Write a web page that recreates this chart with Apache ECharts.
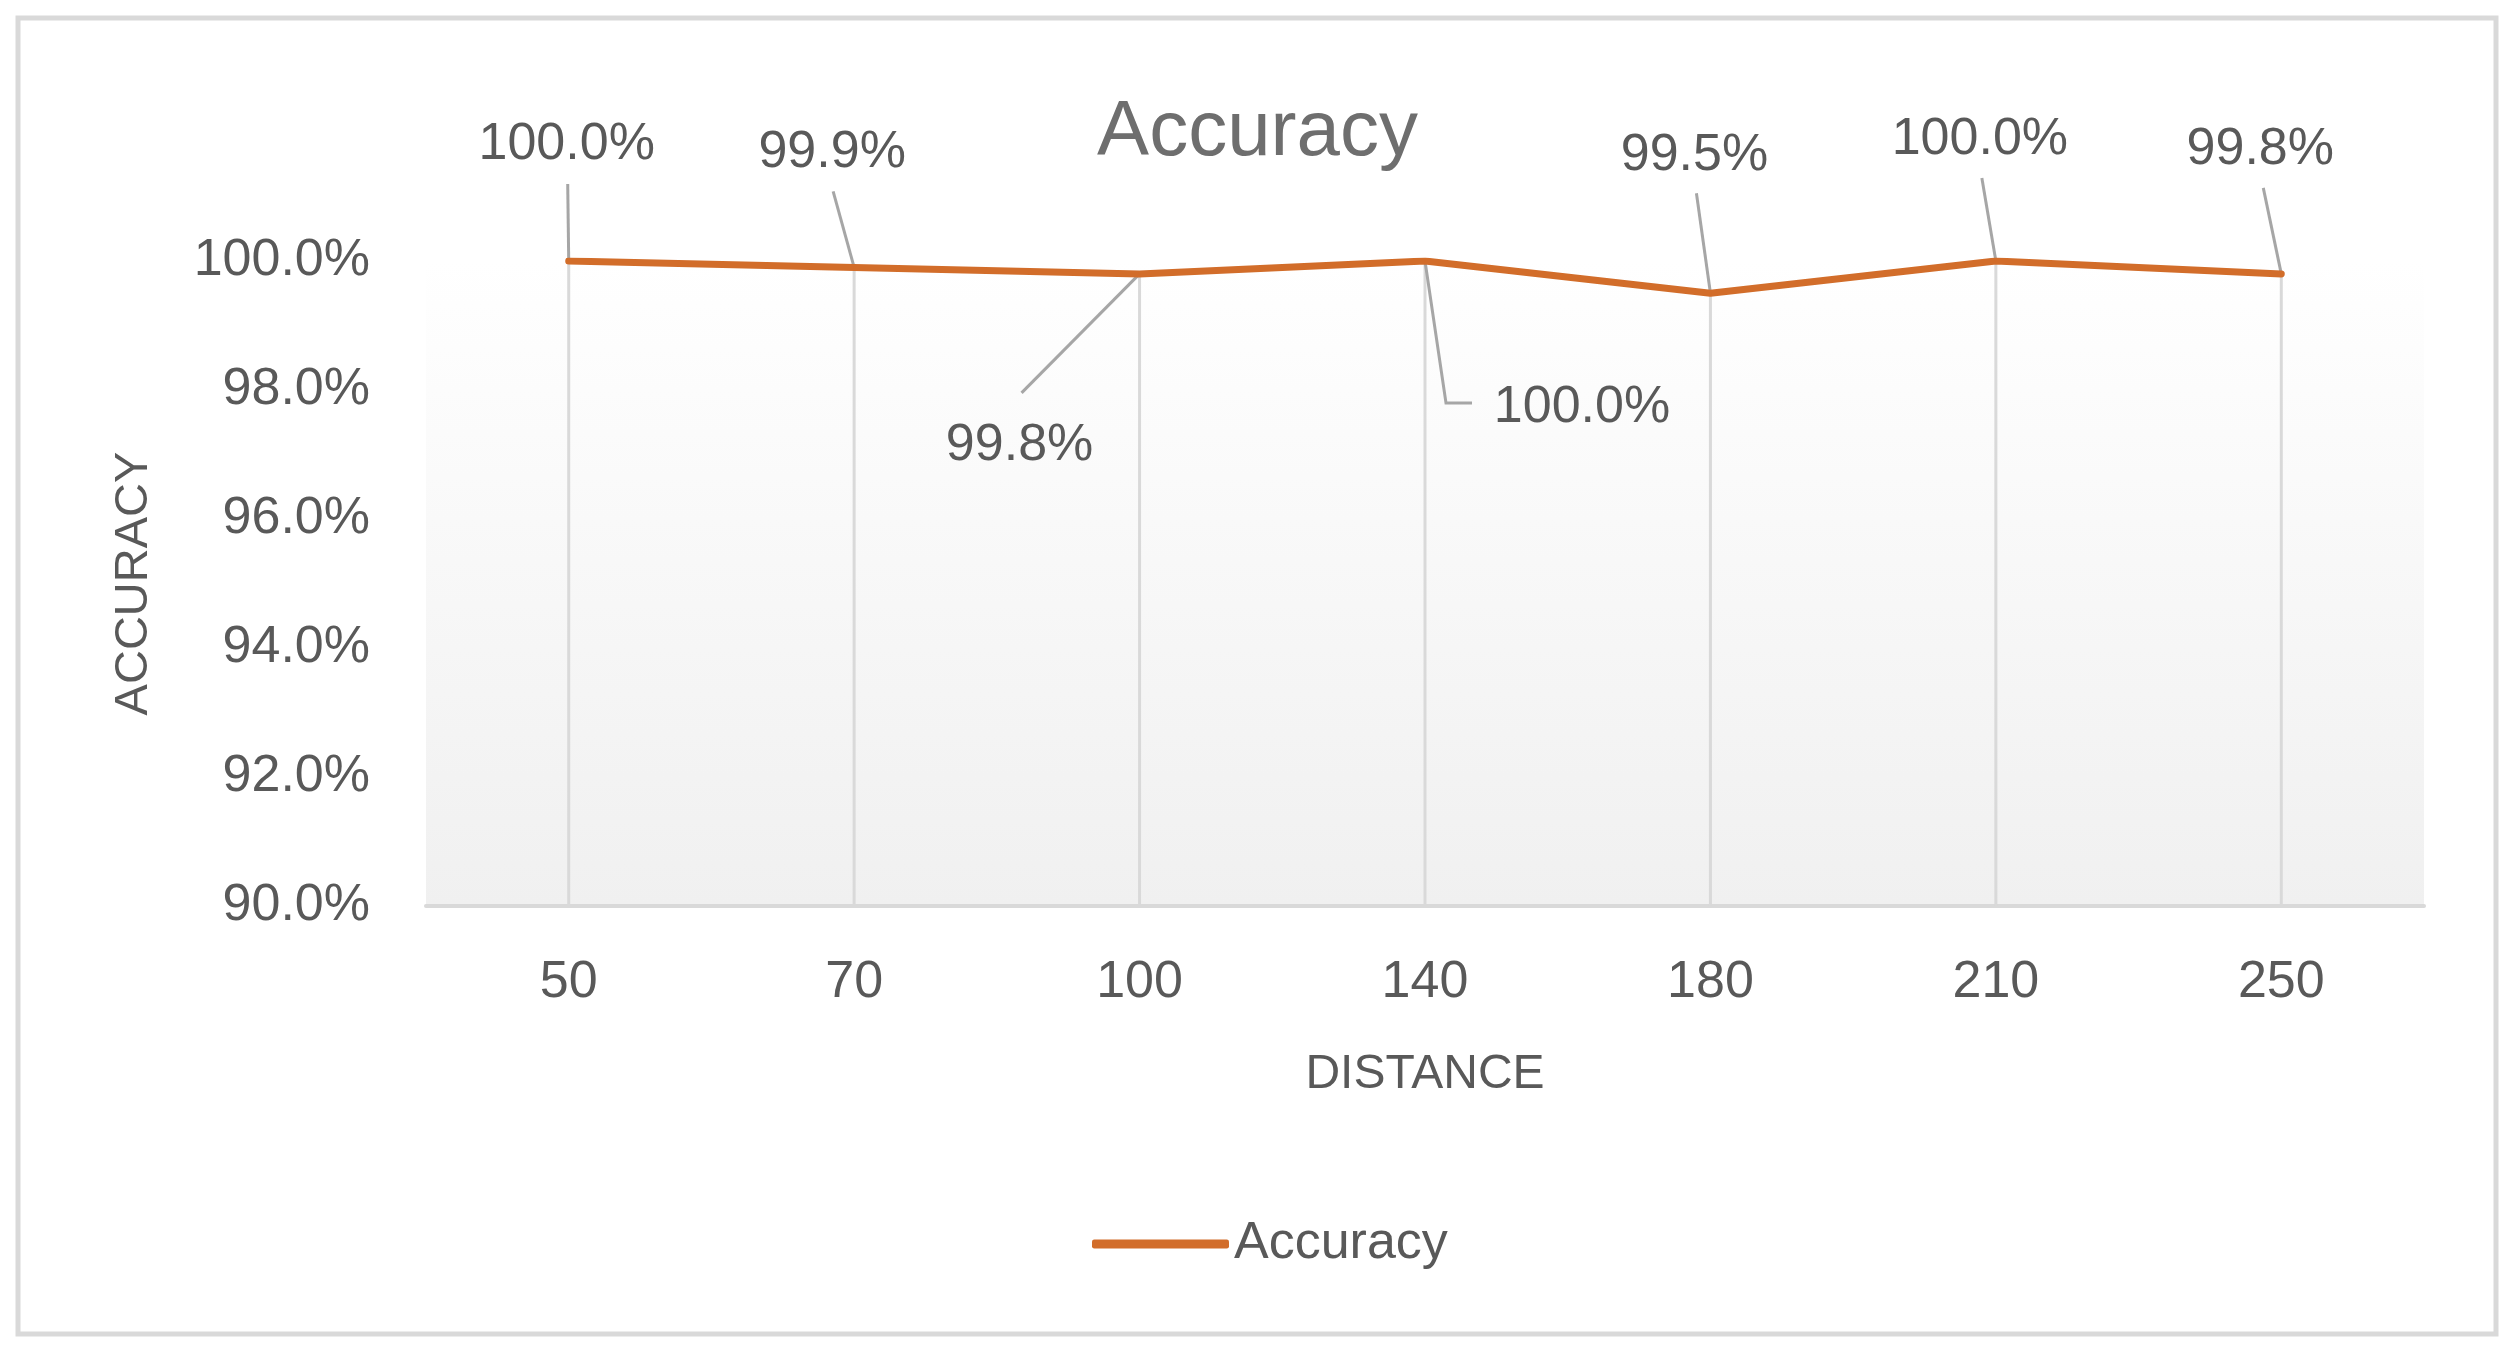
<!DOCTYPE html>
<html>
<head>
<meta charset="utf-8">
<title>Accuracy</title>
<script src="https://cdn.jsdelivr.net/npm/echarts@6/dist/echarts.min.js"></script>
<style>
  html, body { margin: 0; padding: 0; background: #fff; }
  #chart { width: 2515px; height: 1356px; }
</style>
</head>
<body>
<div id="chart"></div>
<script>
// chart data
var distances = ['50', '70', '100', '140', '180', '210', '250'];
var accuracy = [1.000, 0.999, 0.998, 1.000, 0.995, 1.000, 0.998];

// where each data label sits, relative to its point (px)
var labelShift = [[-2, -116], [-22, -115], [-120, 172], [157, 147], [-16, -138], [-16, -121], [-21, -124]];
// leader line bends, relative to the point (px)
var leaderPath = [
    [[-1, -77]],
    [[-21, -76]],
    [[-118, 119]],
    [[21, 142], [47, 142]],
    [[-14, -100]],
    [[-14, -83]],
    [[-18, -86]]
];

var FONT = "'Liberation Sans', Arial, sans-serif";
var TEXT = '#595959';
var ORANGE = '#D26D2A';

function pct(v) {
    return (v * 100).toFixed(1) + '%';
}

var chart = echarts.init(document.getElementById('chart'));

chart.setOption({
    backgroundColor: '#fff',
    animation: false,
    textStyle: { fontFamily: FONT },
    title: {
        text: 'Accuracy',
        left: 'center',
        top: 89,
        textStyle: { fontFamily: FONT, fontSize: 78, fontWeight: 'normal', color: '#6e6e6e' }
    },
    // outer chart frame
    graphic: [{
        type: 'rect',
        shape: { x: 18, y: 18, width: 2478, height: 1316 },
        style: { fill: 'none', stroke: '#d9d9d9', lineWidth: 5 },
        silent: true
    }],
    legend: {
        data: ['Accuracy'],
        left: 1087,
        top: 1213,
        icon: 'roundRect',
        itemWidth: 137,
        itemHeight: 9,
        textStyle: { fontFamily: FONT, fontSize: 52, color: TEXT }
    },
    grid: {
        left: 426,
        right: 91,
        top: 261,
        bottom: 450,
        show: true,
        borderWidth: 0,
        backgroundColor: new echarts.graphic.LinearGradient(0, 0, 0, 1, [
            { offset: 0, color: '#ffffff' },
            { offset: 1, color: '#f0f0f0' }
        ])
    },
    xAxis: {
        type: 'category',
        data: distances,
        name: 'DISTANCE',
        nameLocation: 'middle',
        nameGap: 145,
        nameTextStyle: { fontFamily: FONT, fontSize: 48, color: TEXT },
        axisLine: { lineStyle: { color: '#d9d9d9', width: 4 } },
        axisTick: { show: false },
        axisLabel: { fontFamily: FONT, fontSize: 52, color: TEXT, margin: 51 },
        splitLine: { show: false }
    },
    yAxis: {
        type: 'value',
        min: 0.9,
        max: 1.0,
        interval: 0.02,
        name: 'ACCURACY',
        nameLocation: 'middle',
        nameRotate: 90,
        nameGap: 268,
        nameTextStyle: { fontFamily: FONT, fontSize: 47, color: TEXT },
        axisLine: { show: false },
        axisTick: { show: false },
        splitLine: { show: false },
        axisLabel: {
            fontFamily: FONT, fontSize: 52, color: TEXT, margin: 56,
            formatter: pct
        }
    },
    series: [
        {
            // drop lines from each point to the axis
            name: 'drop',
            type: 'bar',
            data: accuracy,
            barWidth: 3,
            silent: true,
            itemStyle: { color: '#d9d9d9' },
            z: 1
        },
        {
            // leader lines from the points to their labels
            name: 'leader',
            type: 'custom',
            silent: true,
            z: 2,
            data: accuracy.map(function (v, i) { return [i, v]; }),
            encode: { x: 0, y: 1 },
            renderItem: function (params, api) {
                var pt = api.coord([api.value(0), api.value(1)]);
                var pts = [pt].concat(leaderPath[params.dataIndex].map(function (d) {
                    return [pt[0] + d[0], pt[1] + d[1]];
                }));
                return {
                    type: 'polyline',
                    shape: { points: pts },
                    style: { stroke: '#a6a6a6', lineWidth: 3, fill: null }
                };
            }
        },
        {
            name: 'Accuracy',
            type: 'line',
            data: accuracy,
            symbol: 'circle',
            symbolSize: 2,
            itemStyle: { color: ORANGE },
            lineStyle: { color: ORANGE, width: 7, cap: 'round', join: 'round' },
            z: 3,
            label: {
                show: true,
                position: 'inside',
                fontFamily: FONT,
                fontSize: 52,
                color: TEXT,
                formatter: function (p) { return pct(p.value); }
            },
            labelLayout: function (p) {
                var s = labelShift[p.dataIndex];
                return { dx: s[0], dy: s[1] };
            }
        }
    ]
});
</script>
</body>
</html>
